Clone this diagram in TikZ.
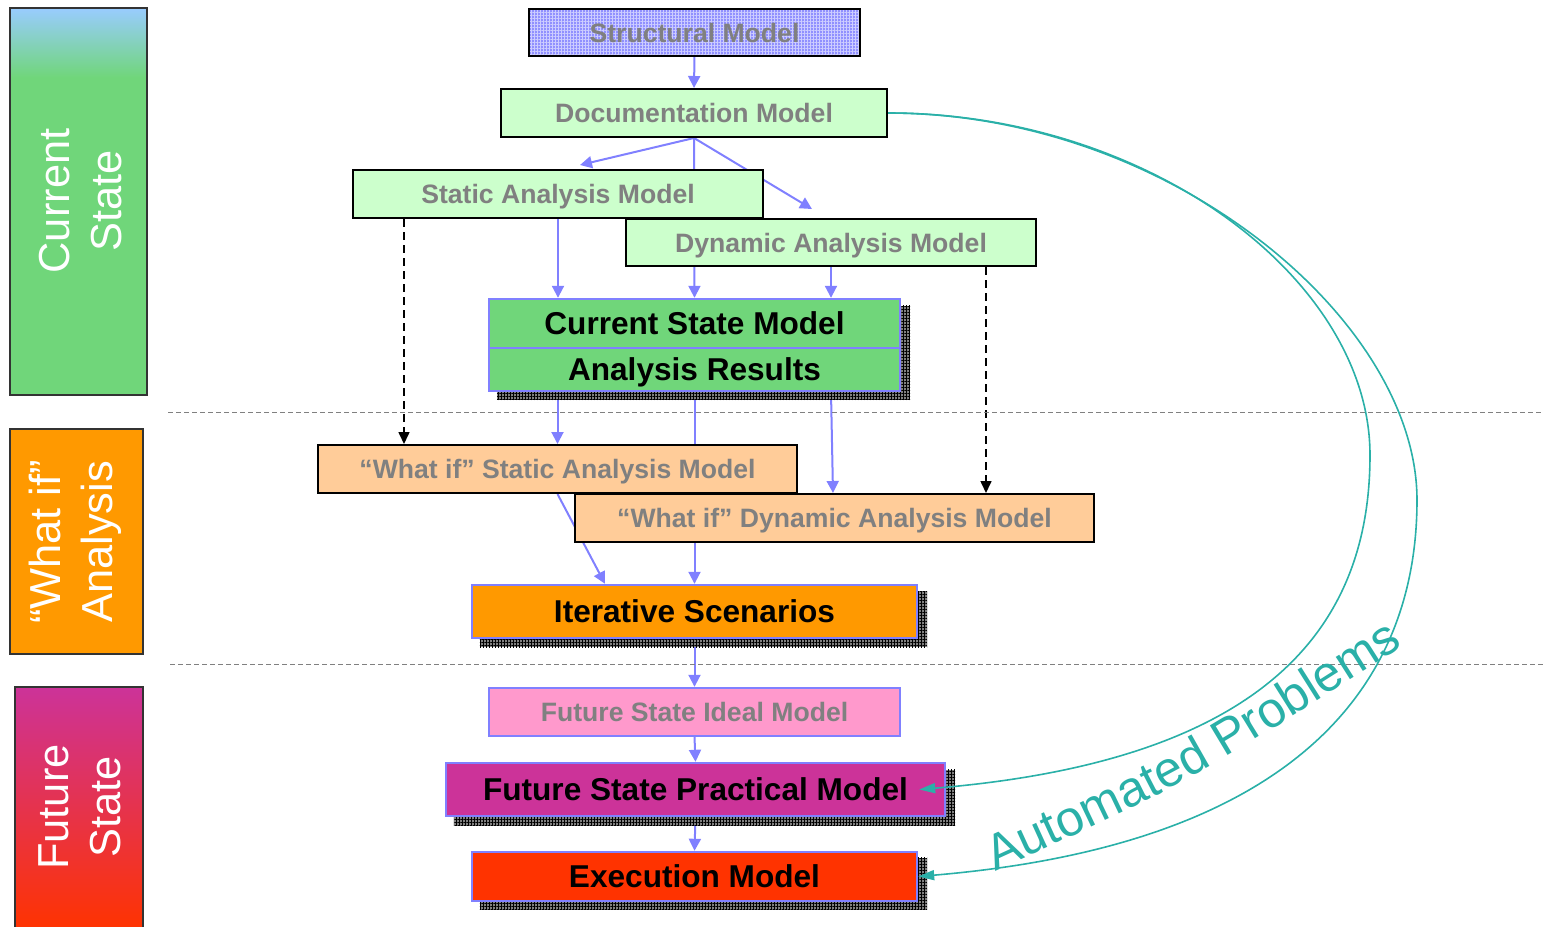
\documentclass[tikz,border=0pt]{standalone}
\usepackage{fontspec}
\setmainfont{Liberation Sans}
\usetikzlibrary{arrows.meta,patterns.meta,decorations.text,backgrounds}
\definecolor{lgreen}{HTML}{CCFFCC}
\definecolor{mgreen}{HTML}{70D67A}
\definecolor{bluebd}{HTML}{8080FF}
\definecolor{peach}{HTML}{FFCC99}
\definecolor{orng}{HTML}{FF9900}
\definecolor{pinkx}{HTML}{FF99CC}
\definecolor{magen}{HTML}{CC3399}
\definecolor{redx}{HTML}{FF3300}
\definecolor{graytxt}{HTML}{808080}
\definecolor{tealc}{HTML}{2AB0A8}
\definecolor{skyb}{HTML}{99CCFF}
\definecolor{structb}{HTML}{9090FF}
\definecolor{shgray}{HTML}{808080}
\pgfdeclareverticalshading{csshade}{100bp}{color(0bp)=(mgreen); color(66bp)=(mgreen); color(75bp)=(skyb); color(100bp)=(skyb)}
\tikzset{
  gbox/.style={draw=black, line width=1pt, inner sep=0pt, text=graytxt, text height=9.5pt, text depth=0pt, font=\bfseries\fontsize{13.3}{16}\selectfont},
  gboxb/.style={draw=bluebd, line width=1.2pt, inner sep=0pt, text=graytxt, text height=9.5pt, text depth=0pt, font=\bfseries\fontsize{13.3}{16}\selectfont},
  bbox/.style={draw=bluebd, line width=1.2pt, inner sep=0pt, text=black, text height=11.3pt, text depth=0pt, font=\bfseries\fontsize{15.8}{19}\selectfont},
  bar/.style={draw=black!80, line width=0.7pt, inner sep=0pt},
  bartext/.style={text=white, align=center, font=\fontsize{21.7}{26}\selectfont, inner sep=0pt},
  arr/.style={draw=bluebd, line width=1pt, -{Triangle[length=6pt,width=6pt]}},
  dsh/.style={draw=black, line width=0.8pt, dash pattern=on 4pt off 2.5pt, -{Triangle[length=6pt,width=5.5pt]}},
  tarr/.style={draw=tealc, line width=0.8pt, -{Triangle[length=8pt,width=5pt]}},
  sepline/.style={draw=graytxt, line width=0.5pt, dash pattern=on 2.5pt off 1.5pt},
  shad/.style={preaction={fill=shgray}, pattern={Hatch[angle=0,distance=1.5pt,line width=0.35pt]}, pattern color=black}
}
\begin{document}
\begin{tikzpicture}[x=0.5pt,y=-0.5pt]
\useasboundingbox (0,0) rectangle (1544,927);

% separators
\coordinate (s1a) at (168,412); \coordinate (s1b) at (1544,412);
\coordinate (s2a) at (170,664); \coordinate (s2b) at (1544,664);
\draw[sepline] (s1a) -- (s1b);
\draw[sepline] (s2a) -- (s2b);

% left bars
\node[bar, shading=csshade, minimum width=68.5pt, minimum height=193.5pt] (cs) at (78.5,201.5) {};
\node[bartext, rotate=90] (cst) at (81,201) {Current\\State};
\node[bar, fill=orng, minimum width=66.5pt, minimum height=112.5pt] (wa) at (76.5,541.5) {};
\node[bartext, rotate=90] (wat) at (75,542) {“What if”\\Analysis};
\node[bar, top color=magen, bottom color=redx, minimum width=64pt, minimum height=121.5pt] (fs) at (79,808.5) {};
\node[bartext, rotate=90] (fst) at (80,807) {Future\\State};

% boxes
\node[gbox, preaction={fill=structb}, pattern={Hatch[angle=0,distance=1.5pt,line width=0.3pt]}, pattern color=white!55!structb, minimum width=165.5pt, minimum height=23.5pt] (sm) at (694.5,32.5) {Structural Model};
\node[gbox, fill=lgreen, minimum width=193pt, minimum height=24pt] (doc) at (694,113) {Documentation Model};
\node[gbox, fill=lgreen, minimum width=205pt, minimum height=24pt] (sam) at (558,194) {Static Analysis Model};
\node[gbox, fill=lgreen, minimum width=205pt, minimum height=23.5pt] (dam) at (831,242.5) {Dynamic Analysis Model};
\node[bbox, fill=mgreen, minimum width=205.5pt, minimum height=24.5pt] (csm) at (694.5,323.5) {Current State Model};
\node[bbox, fill=mgreen, minimum width=205.5pt, minimum height=21.5pt] (ar) at (694.5,369.5) {Analysis Results};
\node[gbox, fill=peach, minimum width=239.5pt, minimum height=24pt] (wis) at (557.5,469) {“What if” Static Analysis Model};
\node[gbox, fill=peach, minimum width=259.5pt, minimum height=24pt] (wid) at (834.5,518) {“What if” Dynamic Analysis Model};
\node[bbox, fill=orng, minimum width=222.5pt, minimum height=26.5pt] (it) at (694.5,611.5) {Iterative Scenarios};
\node[gboxb, fill=pinkx, minimum width=205.5pt, minimum height=24pt] (fi) at (694.5,712) {Future State Ideal Model};
\node[bbox, fill=magen, minimum width=249.5pt, minimum height=26.5pt] (fp) at (695.5,789.5) {Future State Practical Model};
\node[bbox, fill=redx, minimum width=222.5pt, minimum height=24.5pt] (ex) at (694.5,876.5) {Execution Model};

\begin{scope}[on background layer]
\draw[arr] (sm.south) -- (doc.north);
\draw[arr] (doc.south) -- ([xshift=11pt,yshift=2pt]sam.north);
\draw[arr] (doc.south) -- ([xshift=-9.5pt,yshift=4.5pt]dam.north);
\draw[arr] (doc.south) -- (csm.north);
\draw[arr] (sam.south) -- (sam.south |- csm.north);
\draw[arr] (dam.south) -- (dam.south |- csm.north);
\draw[dsh] ([xshift=-77pt]sam.south) -- ([xshift=-77pt]sam.south |- wis.north);
\draw[dsh] ([xshift=77.5pt]dam.south) -- ([xshift=77.5pt]dam.south |- wid.north);
\draw[arr] (ar.south -| wis.north) -- (wis.north);
\draw[arr] (ar.south) -- (it.north);
\draw[arr] (ar.south -| dam.south) -- ([xshift=-0.75pt]wid.north);
\draw[arr] (wis.south) -- ([xshift=-44.75pt]it.north);
\draw[arr] (it.south) -- (fi.north);
\draw[arr] (fi.south) -- (fp.north);
\draw[arr] (fp.south) -- (ex.north);
% shadows
\path[shad] ([xshift=4.5pt,yshift=-4pt]csm.north west) rectangle ([xshift=4.5pt,yshift=-4pt]ar.south east);
\path[shad] ([xshift=4.5pt,yshift=-4pt]it.north west) rectangle ([xshift=4.5pt,yshift=-4pt]it.south east);
\path[shad] ([xshift=4.5pt,yshift=-4pt]fp.north west) rectangle ([xshift=4.5pt,yshift=-4pt]fp.south east);
\path[shad] ([xshift=4.5pt,yshift=-3.5pt]ex.north west) rectangle ([xshift=4.5pt,yshift=-3.5pt]ex.south east);
\end{scope}

% automated problems curves
\draw[tarr] (doc.east) .. controls (1150,113) and (1370,280) .. (1370,455) .. controls (1370,640) and (1250,762) .. ([xshift=-13.5pt]fp.east);
\draw[tarr] (doc.east) .. controls (1170,113) and (1417,320) .. (1417,500) .. controls (1417,690) and (1290,845) .. (ex.east);
\path[decorate, decoration={text along path, text align=center, text={|\fontsize{25}{30}\selectfont\color{tealc}|Automated Problems}}] (985,876) .. controls (1185,785) .. (1413,640);
\end{tikzpicture}
\end{document}
